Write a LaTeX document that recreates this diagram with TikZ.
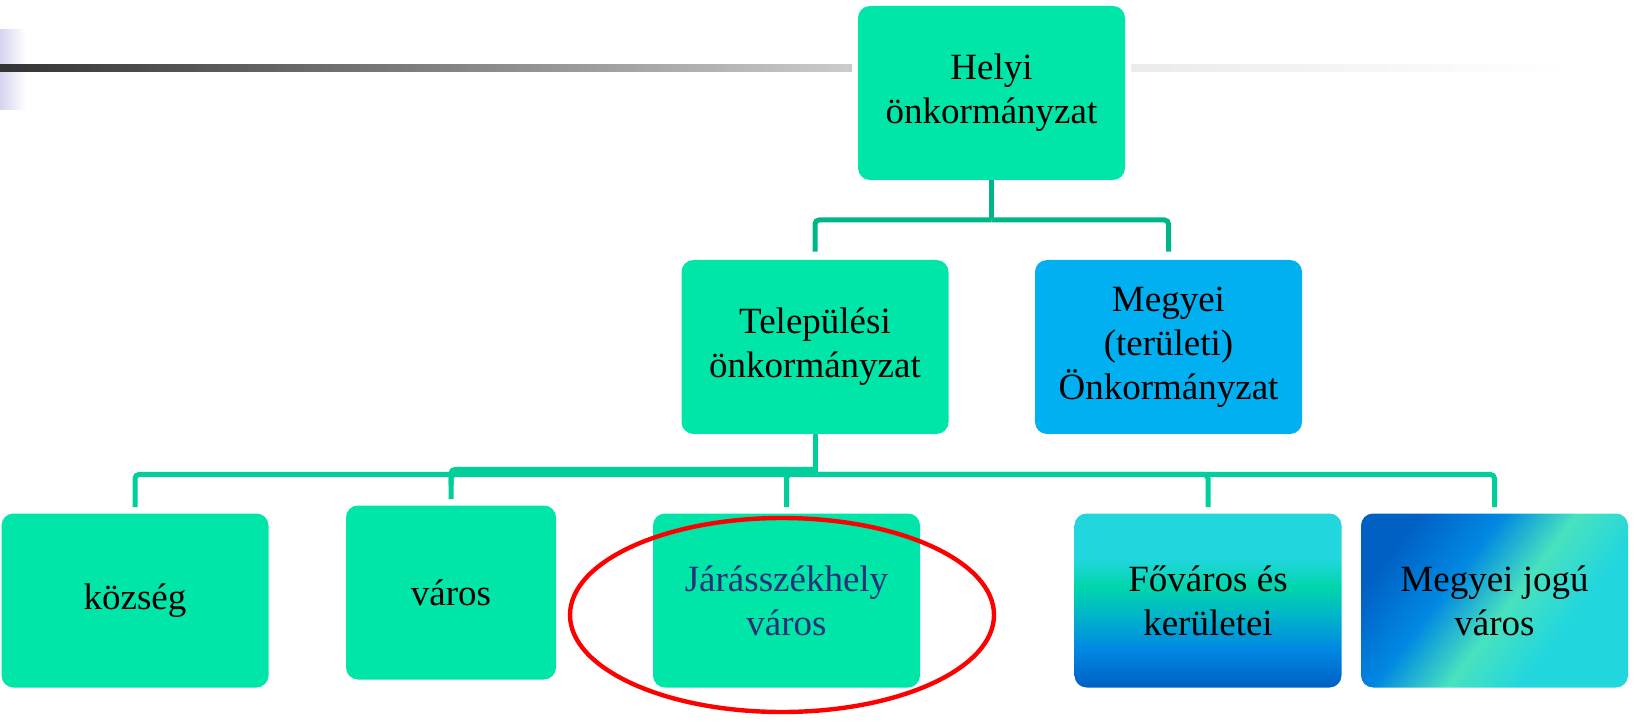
\documentclass[tikz,border=0pt]{standalone}
\usepackage{fontspec}
\setmainfont{Liberation Serif}
\usepackage{tikz}
\usetikzlibrary{calc,positioning}
\usepackage{xcolor}
\definecolor{boxgreen}{RGB}{0,229,168}
\definecolor{boxblue}{RGB}{0,176,240}
\definecolor{linedark}{RGB}{0,182,136}
\definecolor{linelight}{RGB}{0,206,155}
\definecolor{jarastext}{RGB}{44,48,118}
\definecolor{fvdark}{RGB}{0,96,196}
\definecolor{fvblue}{RGB}{0,136,226}
\definecolor{fvteal}{RGB}{0,182,200}
\definecolor{fvgreen}{RGB}{0,214,170}
\definecolor{fvcyan}{RGB}{34,214,222}
\definecolor{mjlight}{RGB}{72,226,190}
\definecolor{stripcol}{RGB}{212,212,240}
% shadings of the two coloured boxes on the right
\pgfdeclareverticalshading{fovarosshade}{100bp}{color(0bp)=(fvdark); color(25bp)=(fvdark); color(36bp)=(fvblue); color(46bp)=(fvteal); color(54bp)=(fvgreen); color(62bp)=(fvcyan); color(100bp)=(fvcyan)}
\pgfdeclarehorizontalshading{megyjogushade}{100bp}{color(0bp)=(fvdark); color(25bp)=(fvdark); color(40bp)=(fvblue); color(53bp)=(mjlight); color(66bp)=(fvcyan); color(100bp)=(fvcyan)}
\tikzset{
orgbox/.style={rounded corners=6pt, minimum width=133.5pt, minimum height=87pt, inner sep=2pt, align=center, font=\fontsize{18.5}{22}\selectfont, text=black}, % every box of the tree
greenbox/.style={orgbox, fill=boxgreen},
topline/.style={line width=2.5pt, draw=linedark}, % upper connector
botline/.style={line width=2.5pt, draw=linelight}, % lower connector
redring/.style={line width=2.2pt, draw=red},
}

\begin{document}
\begin{tikzpicture}[x=0.5pt,y=0.5pt,yscale=-1,xscale=1]
		\useasboundingbox (0,0) rectangle (1633,721); %diagram has width 1633 and height 721
		
		% title bar
		\fill [left color=stripcol, right color=white]  (0,30) rectangle (26,110);
		\fill [left color=black!80, right color=black!20]  (0,65) rectangle (852,72);
		\fill [left color=black!8, right color=white]  (1131,65) rectangle (1570,72);
		
		% Text Node
		\node [greenbox] (helyi) at (991.5,93) {Helyi\\önkormányzat};
		% Text Node
		\node [greenbox] (telep) at (815,347) {Települési\\önkormányzat};
		% Text Node
		\node [orgbox, fill=boxblue] (megyei) at (1168.5,347) {Megyei\\(területi)\\Önkormányzat};
		
		% Text Node
		\node [greenbox] (kozseg) at (135,600.5) {község};
		% Text Node
		\node [greenbox, minimum width=105pt] (varos) at (451,592.5) {város};
		% Text Node
		\node [greenbox, text=jarastext] (jaras) at (786.5,600.5) {Járásszékhely\\város};
		% Text Node
		\node [orgbox, shade, shading=fovarosshade] (fovaros) at (1208,600.5) {Főváros és\\kerületei};
		% Text Node
		\node [orgbox, shade, shading=megyjogushade, shading angle=-37] (megyjogu) at (1494.5,600.5) {Megyei jogú\\város};
		
		% upper connector
		\coordinate (topsplit) at (991.5,220);
		\draw [topline] (helyi.south) -- (topsplit);
		\draw [topline, rounded corners=2pt, shorten >=4pt] (topsplit) -| (telep.north);
		\draw [topline, rounded corners=2pt, shorten >=4pt] (topsplit) -| (megyei.north);
		
		% lower connector
		\coordinate (botsplit) at (815,474.5);
		\draw [botline] (telep.south) -- (botsplit);
		\foreach \child in {kozseg,varos,jaras,fovaros,megyjogu}
		\draw [botline, rounded corners=2pt, shorten >=3pt] (botsplit) -| (\child.north);
		\draw [botline, rounded corners=2pt] (botsplit |- 0,469.5) -| ($(varos.north)+(0,-20)$);
		
		% highlight
		\draw [redring] (782,615) ellipse [x radius=212, y radius=97];
		
		\end{tikzpicture}
\end{document}
